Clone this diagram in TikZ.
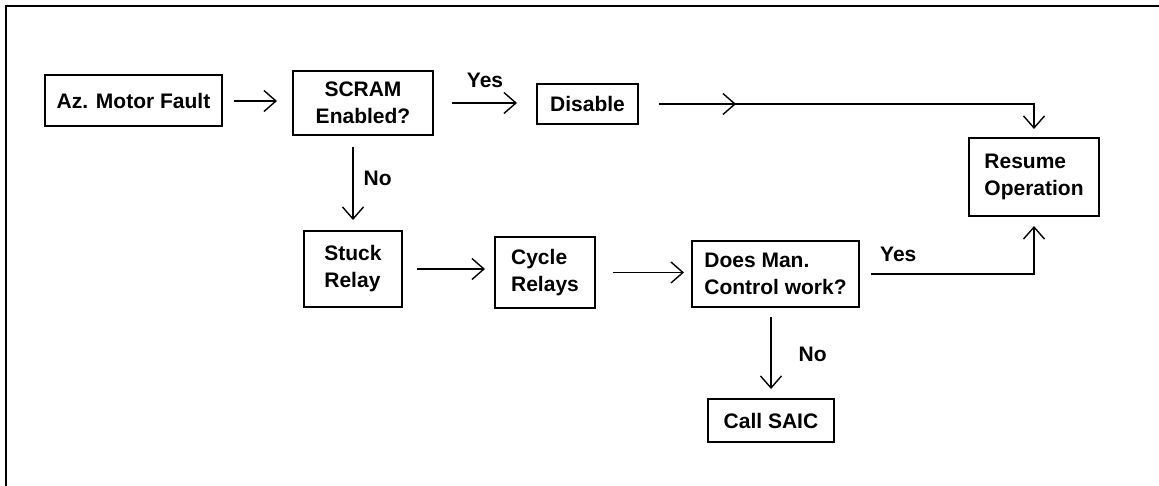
\documentclass[tikz,border=0pt]{standalone}
\usepackage{fontspec}
\setmainfont{Liberation Sans}
\usetikzlibrary{arrows.meta, decorations.markings}

\begin{document}
\begin{tikzpicture}[
    x=1pt, y=-1pt,
    font=\fontsize{21}{27}\selectfont\bfseries,
    box/.style={draw, line width=2pt, inner sep=4pt, align=left},
    flow/.style={->, line width=1.4pt, shorten <=11pt, shorten >=10pt},
    lbl/.style={inner sep=0pt},
    >={Straight Barb[length=12pt, width=21pt]}
]
\useasboundingbox (0,0) rectangle (1159,486);

% Frame along the top and left edge
\draw[line width=2.5pt] (6,486) -- (6,6) -- (1159,6);

% Boxes
\node[box, align=center, minimum width=177pt, minimum height=51pt] (fault) at (133.5,101) {Az. Motor Fault};
\node[box, align=center, minimum width=140pt, minimum height=64pt] (scram) at (363,103) {SCRAM\\Enabled?};
\node[box, minimum width=101pt, minimum height=40pt] (disable) at (587.5,104) {Disable};
\node[box, minimum width=130pt, minimum height=78pt] (resume) at (1034,177) {Resume\\Operation};
\node[box, minimum width=98pt, minimum height=76pt] (stuck) at (353,269) {Stuck\\Relay};
\node[box, minimum width=100pt, minimum height=71pt] (cycle) at (545,272.5) {Cycle\\Relays};
\node[box, minimum width=167pt, minimum height=66pt] (manual) at (775.5,274) {Does Man.\\Control work?};
\node[box, minimum width=126pt, minimum height=43pt] (saic) at (771,420.5) {Call SAIC};

% Connectors
\draw[flow, shorten >=15pt] (fault.east) -- (fault.east -| scram.west);
\draw[flow, shorten <=18pt, shorten >=19pt] (scram.east) -- (scram.east -| disable.west)
    node[lbl, midway, above=15pt] {Yes};
\draw[line width=1.4pt, shorten <=20pt, shorten >=8pt, ->,
      decoration={markings, mark=at position 97pt with {\arrow{>}}},
      postaction={decorate}] (disable.east) -| (resume.north);
\draw[flow] (scram.south -| stuck.north) -- (stuck.north)
    node[lbl, pos=0.45, right=10pt] {No};
\draw[flow, shorten <=14pt, shorten >=9pt] (stuck.east) -- (stuck.east -| cycle.west);
\draw[flow, shorten <=17pt, shorten >=7pt] (cycle.east) -- (cycle.east -| manual.west);
\draw[flow, shorten >=9pt] (manual.east) -| (resume.south)
    node[lbl, pos=0.11, above=12pt] {Yes};
\draw[flow, shorten <=9pt, shorten >=9pt] (manual.south -| saic.north) -- (saic.north)
    node[lbl, pos=0.52, right=27pt] {No};

\end{tikzpicture}
\end{document}
